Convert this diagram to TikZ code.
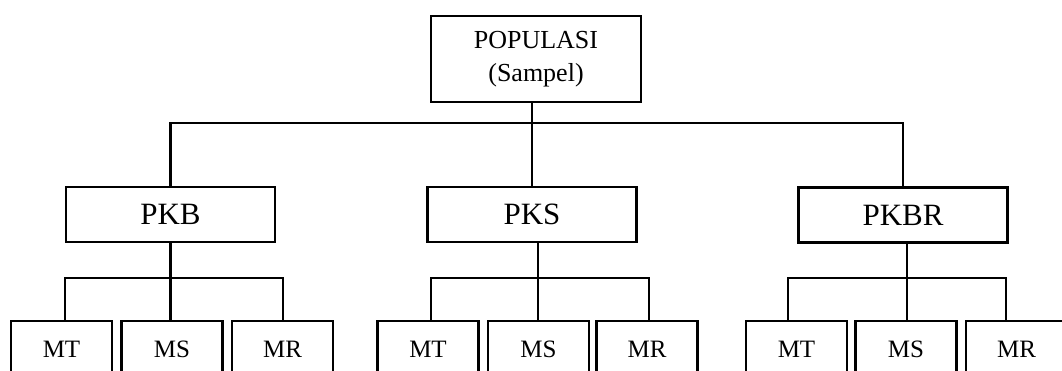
\documentclass[tikz,border=0pt]{standalone}
\usepackage{fontspec}
\setmainfont{Liberation Serif}
\begin{document}
\begin{tikzpicture}[x=1pt,y=-1pt,
  conn/.style={line width=2.4pt},
  box/.style={draw,line width=2.4pt,rectangle,inner sep=0pt,align=center},
  topbox/.style={box,minimum width=210pt,minimum height=86pt,font=\fontsize{26}{33}\selectfont},
  midbox/.style={box,minimum width=209pt,minimum height=55pt,font=\fontsize{31}{36}\selectfont},
  leafbox/.style={box,minimum width=101pt,minimum height=56pt,font=\fontsize{25}{30}\selectfont}]
\useasboundingbox (0,0) rectangle (1062,370);
\clip (0,0) rectangle (1062,370);
% top
\node[topbox] (pop) at (536,59) {POPULASI\\(Sampel)};
% middle
\node[midbox] (pkb) at (170.5,214.5) {PKB};
\node[midbox] (pks) at (532,214.5) {PKS};
\node[midbox] (pkbr) at (903,215) {PKBR};
% leaves
\node[leafbox] (mt1) at (61.5,349) {MT};
\node[leafbox] (ms1) at (172,349) {MS};
\node[leafbox] (mr1) at (282.5,349) {MR};
\node[leafbox] (mt2) at (428,349) {MT};
\node[leafbox] (ms2) at (538.5,349) {MS};
\node[leafbox] (mr2) at (647,349) {MR};
\node[leafbox] (mt3) at (796.5,349) {MT};
\node[leafbox] (ms3) at (906,349) {MS};
\node[leafbox] (mr3) at (1016.5,349) {MR};
% top connectors
\coordinate (tb) at (0,123);
\draw[conn] (pks.north |- pop.south) -- (pks.north);
\draw[conn] (pkb.north) -- (pkb.north |- tb) -- (pkbr.north |- tb) -- (pkbr.north);
% group 1
\coordinate (a1) at (65,278);
\coordinate (a2) at (283,278);
\draw[conn] (pkb.south) -- (pkb.south |- ms1.north);
\draw[conn] (a1 |- mt1.north) -- (a1) -- (a2) -- (a2 |- mr1.north);
% group 2
\coordinate (b1) at (431,278);
\coordinate (b2) at (649,278);
\coordinate (bm) at (538,278);
\draw[conn] (bm |- pks.south) -- (bm |- ms2.north);
\draw[conn] (b1 |- mt2.north) -- (b1) -- (b2) -- (b2 |- mr2.north);
% group 3
\coordinate (c1) at (788,278);
\coordinate (c2) at (1006,278);
\coordinate (cm) at (907,278);
\draw[conn] (cm |- pkbr.south) -- (cm |- ms3.north);
\draw[conn] (c1 |- mt3.north) -- (c1) -- (c2) -- (c2 |- mr3.north);
\end{tikzpicture}
\end{document}
